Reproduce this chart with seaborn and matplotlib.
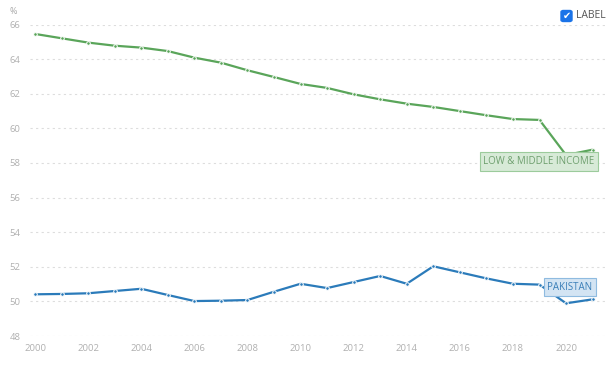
import matplotlib
matplotlib.use("Agg")
import matplotlib.pyplot as plt
from matplotlib.patches import FancyBboxPatch
import pandas as pd
import seaborn as sns

years = list(range(2000, 2022))
low_middle = [65.46, 65.21, 64.96, 64.78, 64.67, 64.47, 64.09, 63.80, 63.36, 62.97, 62.57,
              62.34, 61.97, 61.68, 61.43, 61.24, 61.00, 60.76, 60.54, 60.49, 58.46, 58.77]
pakistan = [50.41, 50.43, 50.47, 50.60, 50.73, 50.37, 50.02, 50.04, 50.08, 50.56, 51.02,
            50.77, 51.12, 51.47, 51.02, 52.03, 51.68, 51.33, 51.02, 50.97, 49.89, 50.12]
yticks = [48, 50, 52, 54, 56, 58, 60, 62, 64, 66]
xticks = list(range(2000, 2022, 2))

green = "#5aa55a"
blue = "#2b7bba"

df = pd.DataFrame({
    "year": years * 2,
    "value": low_middle + pakistan,
    "series": ["LOW & MIDDLE INCOME"] * len(years) + ["PAKISTAN"] * len(years),
})

sns.set_style("white")
plt.rcParams["font.family"] = ["Open Sans", "DejaVu Sans"]

fig = plt.figure(figsize=(6.14, 3.74), dpi=100)
ax = fig.add_axes([30 / 614, 38 / 374, 578 / 614, 311.4 / 374])

sns.lineplot(data=df, x="year", y="value", hue="series",
             palette={"LOW & MIDDLE INCOME": green, "PAKISTAN": blue},
             marker="o", markersize=2.6, markeredgecolor="white", markeredgewidth=0.7,
             linewidth=1.6, legend=False, ax=ax, clip_on=False)

ax.set_xlim(1999.81, 2021.58)
ax.set_ylim(48, 66)
ax.set_xticks(xticks)
ax.set_yticks(yticks)
ax.set_xlabel("")
ax.set_ylabel("")
for s in ax.spines.values():
    s.set_visible(False)
ax.grid(axis="y", color="#dddddd", linestyle=(0, (2, 3)), linewidth=0.8)
ax.tick_params(axis="x", colors="#cccccc", labelcolor="#b0b0b0", labelsize=6.8,
               length=3, width=0.6, direction="out", pad=3)
ax.tick_params(axis="y", length=0, labelcolor="#b0b0b0", labelsize=6.8, pad=7)

ax.text(2018.98, 58.09, "LOW & MIDDLE INCOME", ha="center", va="center",
        fontsize=7, color="#6e9f6e",
        bbox=dict(boxstyle="square,pad=0.38", facecolor="#d7ead7", edgecolor="#9ccb9c", linewidth=0.8))
ax.text(2020.15, 50.83, "PAKISTAN", ha="center", va="center",
        fontsize=7, color="#3b7fb8",
        bbox=dict(boxstyle="square,pad=0.38", facecolor="#d3e4f3", edgecolor="#8fbbe0", linewidth=0.8))

fig.text(10 / 614, 1 - 12 / 374, "%", fontsize=6.5, color="#a8a8a8", ha="left", va="center")

# checkbox
box = FancyBboxPatch((561 / 614, 1 - 21.5 / 374), 11 / 614, 11 / 374,
                     boxstyle="round,pad=0,rounding_size=0.004",
                     transform=fig.transFigure, facecolor="#1a73e8", edgecolor="#1a73e8")
fig.patches.append(box)
fig.text(566.5 / 614, 1 - 16 / 374, "\u2714", fontsize=7, color="white",
         ha="center", va="center", family="DejaVu Sans")
fig.text(576 / 614, 1 - 16 / 374, "LABEL", fontsize=7.5, color="#555555", ha="left", va="center")

fig.savefig("out.png", dpi=100)
